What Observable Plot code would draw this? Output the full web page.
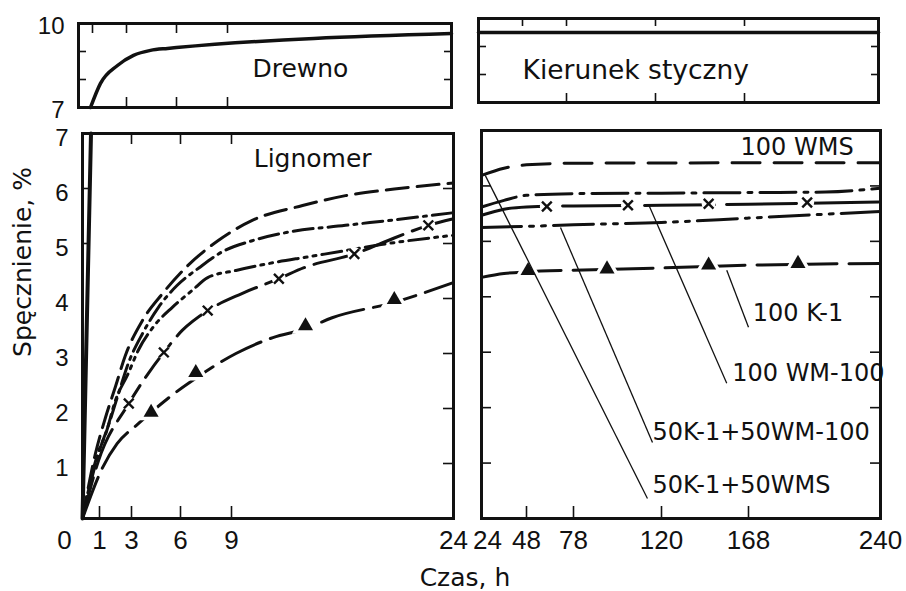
<!DOCTYPE html>
<html><head><meta charset="utf-8">
<script src="https://cdn.jsdelivr.net/npm/d3@7"></script>
<script src="https://cdn.jsdelivr.net/npm/@observablehq/plot@0.6"></script>
<style>
html,body{margin:0;padding:0;background:#fff;}
#root{position:relative;width:906px;height:591px;overflow:hidden;background:#fff;}
#root svg{position:absolute;left:0;top:0;background:transparent;overflow:visible;}
.t{position:absolute;font-family:"DejaVu Sans",sans-serif;color:#111;white-space:nowrap;line-height:1;}
</style></head><body><div id="root"></div>
<script>
// ================= DATA =================
const leftTicks = [0, 1, 3, 6, 9, 24];
const rightTicks = [24, 48, 78, 120, 168, 240];
const topYTicks = [7, 10];
const bottomYTicks = [1, 2, 3, 4, 5, 6, 7];

// Wood (Drewno)
const woodTopT = [0.86, 1.47, 2.47, 3.42, 4.44, 5.46, 6, 24];
const woodTopV = [7.0, 7.86, 8.5, 8.86, 9.04, 9.11, 9.14, 9.64];
const woodTopRT = [24, 240];
const woodTopRV = [9.5, 9.5];
const woodBotT = [0, 0.5];
const woodBotV = [0, 7];

// Lignomer, 0-24 h
const wmsLT = [0, 0.76, 1.38, 2.0, 2.6, 3.67, 4.9, 6.3, 8.2, 10.4, 13.8, 16.7, 20, 24];
const wmsLV = [0, 1.18, 1.84, 2.4, 2.95, 3.6, 4.09, 4.56, 5.05, 5.42, 5.69, 5.87, 5.99, 6.1];
const k1wmsLT = [0, 0.94, 1.6, 2.25, 2.8, 3.67, 4.65, 5.8, 7.1, 8.4, 10.4, 12.7, 16.7, 20, 24];
const k1wmsLV = [0, 1.18, 1.73, 2.33, 2.82, 3.36, 3.84, 4.24, 4.56, 4.84, 5.05, 5.2, 5.33, 5.43, 5.56];
const wm100LT = [0, 0.94, 2.83, 4.98, 6.1, 7.6, 9.7, 12.2, 13.9, 17.3, 20, 22.3, 24];
const wm100LV = [0, 1.05, 2.09, 3.02, 3.42, 3.78, 4.09, 4.36, 4.56, 4.81, 5.1, 5.33, 5.45];
const k1wmLT = [0, 0.9, 1.4, 2.0, 2.8, 3.4, 4.3, 5.5, 6.7, 7.6, 9.3, 11.8, 14, 16.7, 19.1, 24];
const k1wmLV = [0, 1.18, 1.55, 2.15, 2.64, 3.05, 3.47, 3.84, 4.15, 4.38, 4.51, 4.65, 4.75, 4.87, 4.98, 5.15];
const k1LT = [0, 1.2, 2.1, 3.4, 4.2, 5.3, 6.9, 9.3, 11.8, 14, 15.8, 20, 24];
const k1LV = [0, 0.93, 1.36, 1.72, 1.93, 2.2, 2.55, 3.0, 3.29, 3.45, 3.65, 3.93, 4.29];
const wm100LMarkT = [2.83, 4.98, 7.6, 12.2, 17.3, 22.3];
const wm100LMarkV = [2.09, 3.02, 3.78, 4.36, 4.81, 5.33];
const k1LMarkT = [4.2, 6.9, 14, 20];
const k1LMarkV = [1.93, 2.65, 3.5, 3.98];

// 24-240 h
const wmsRT = [24, 36, 48, 78, 240];
const wmsRV = [6.19, 6.32, 6.38, 6.41, 6.42];
const k1wmsRT = [24, 36, 48, 78, 120, 168, 210, 240];
const k1wmsRV = [5.62, 5.74, 5.83, 5.86, 5.87, 5.88, 5.89, 5.96];
const wm100RT = [24, 36, 48, 78, 120, 168, 240];
const wm100RV = [5.47, 5.58, 5.62, 5.64, 5.65, 5.67, 5.71];
const k1wmRT = [24, 48, 78, 120, 168, 240];
const k1wmRV = [5.25, 5.27, 5.3, 5.34, 5.42, 5.54];
const k1RT = [24, 36, 48, 78, 120, 168, 240];
const k1RV = [4.35, 4.42, 4.45, 4.48, 4.52, 4.57, 4.6];
const wm100RMarkT = [61, 104, 146, 200];
const wm100RMarkV = [5.63, 5.65, 5.68, 5.7];
const k1RMarkT = [49, 94, 146, 195];
const k1RMarkV = [4.47, 4.5, 4.57, 4.6];

// Labels
const seriesLabels = ["100 WMS", "100 K-1", "100 WM-100", "50K-1+50WM-100", "50K-1+50WMS"];
const seriesLabelT = [163.6, 170.3, 159, 115.7, 115.7];
const seriesLabelV = [6.7, 3.7, 2.62, 1.55, 0.6];
const leaderFromT = [168, 156, 115.7, 113.3];
const leaderFromV = [3.45, 2.44, 1.37, 0.36];
const leaderToT = [156, 114, 69.7, 26];
const leaderToV = [4.48, 5.65, 5.25, 6.19];
const panelTitles = ["Drewno", "Kierunek styczny", "Lignomer"];
const panelTitleT = [10.67, 48, 10.5];
const panelTitleV = [8.36, 8.14, 6.53];

// ================= LAYOUT =================
const W = 906, H = 591;
const INK = "#111";
const NUM_FONT_X = '"Liberation Sans Narrow", "Liberation Sans", sans-serif';
const NUM_FONT_Y = '"Liberation Sans", sans-serif';
const TXT_FONT = '"DejaVu Sans", sans-serif';
const pts = (t, v) => t.map((d, i) => ({t: d, v: v[i]}));
const root = document.getElementById("root");

// The hand-drawn time axes are not quite uniform: a warp maps each labelled tick
// onto its drawn spot, and the Plot linear scale does the rest.
function warpFor(ticks, tickPx) {
  const a = ticks[0], b = ticks[ticks.length - 1];
  const p0 = tickPx[0], p1 = tickPx[tickPx.length - 1];
  const warped = tickPx.map(p => a + (p - p0) / (p1 - p0) * (b - a));
  return d3.scaleLinear().domain(ticks).range(warped);
}

function panel({L, R, T, B, ticks, tickPx, yDomain, marks}) {
  const svg = Plot.plot({
    width: W, height: H,
    marginLeft: L, marginRight: W - R, marginTop: T, marginBottom: H - B,
    x: {type: "linear", domain: [ticks[0], ticks[ticks.length - 1]], range: [L, R],
        transform: warpFor(ticks, tickPx), axis: null, label: null},
    y: {domain: yDomain, range: [B, T], axis: null, label: null},
    style: {background: "transparent", fontFamily: TXT_FONT, color: INK, overflow: "visible"},
    marks: [...marks, Plot.frame({stroke: INK, strokeWidth: 3})]
  });
  root.appendChild(svg);
}

const ticksX = (vals, side, len, fh) => Plot.ruleX(vals, {x: d => d, stroke: INK, strokeWidth: 1.6,
  ...(side === "bottom" ? {insetTop: fh - len} : {insetBottom: fh - len})});
const ticksY = (vals, side, len, fw) => Plot.ruleY(vals, {y: d => d, stroke: INK, strokeWidth: 1.6,
  ...(side === "left" ? {insetRight: fw - len} : {insetLeft: fw - len})});
const yLabels = (vals, dy) => Plot.text(vals, {y: d => d, text: d => String(d), frameAnchor: "left",
  textAnchor: "end", dx: -14, dy, fontSize: 24, fontFamily: NUM_FONT_Y, fill: INK});
const xLabels = (vals, dx) => Plot.text(vals, {x: d => d, text: d => String(d), frameAnchor: "bottom",
  lineAnchor: "top", dy: 12, dx, fontSize: 26, fontFamily: NUM_FONT_X, fill: INK});
const title = (i, size = 25) => Plot.text([i], {x: () => panelTitleT[i], y: () => panelTitleV[i], text: () => panelTitles[i],
  textAnchor: "start", fontSize: size, fontFamily: TXT_FONT, fill: INK});
const ln = (t, v, dash, sw = 3) => Plot.line(pts(t, v), {x: "t", y: "v", stroke: INK, strokeWidth: sw,
  strokeDasharray: dash, curve: "monotone-x"});
const crosses = (t, v) => [
  Plot.dot(pts(t, v), {x: "t", y: "v", r: 7, fill: "#fff", stroke: null}),
  Plot.dot(pts(t, v), {x: "t", y: "v", symbol: "times", r: 4.5, stroke: INK, strokeWidth: 2.4})
];
const triangles = (t, v) => Plot.dot(pts(t, v), {x: "t", y: "v", symbol: "triangle", r: 5.6, fill: INK,
  stroke: "#fff", strokeWidth: 7, paintOrder: "stroke"});

// ---- Top-left: Drewno ----
{
  const L = 78, R = 451, T = 23, B = 107;
  panel({L, R, T, B, ticks: leftTicks, tickPx: [78, 92, 126, 176, 227, 451], yDomain: [7, 10], marks: [
    ticksX([1, 3, 6, 9], "top", 10, B - T),
    ticksX([3, 6, 9], "bottom", 10, B - T),
    ticksY([8, 9], "left", 8, R - L),
    ticksY([8, 9], "right", 7, R - L),
    ln(woodTopT, woodTopV, null, 3.5),
    title(0),
    yLabels(topYTicks, 3)
  ]});
}
// ---- Top-right: Kierunek styczny ----
{
  const L = 478, R = 878, T = 18, B = 102;
  panel({L, R, T, B, ticks: rightTicks, tickPx: [478, 522, 566, 655, 744, 878], yDomain: [7, 10], marks: [
    ticksX([48, 78, 120, 168], "top", 8, B - T),
    ticksX([78, 120, 168], "bottom", 9, B - T),
    ticksY([8, 9], "left", 8, R - L),
    ticksY([8, 9], "right", 7, R - L),
    ln(woodTopRT, woodTopRV, null, 3.5),
    title(1, 26.5)
  ]});
}
// ---- Bottom-left: Lignomer 0-24 h ----
{
  const L = 82, R = 453, T = 133, B = 518;
  panel({L, R, T, B, ticks: leftTicks, tickPx: [82, 99, 131, 180, 231, 453], yDomain: [0, 7], marks: [
    ticksX([1, 3, 6, 9], "bottom", 12, B - T),
    ticksX([3, 6, 9], "top", 11, B - T),
    ticksY([5, 6], "left", 8, R - L),
    ticksY([1, 2, 3, 4, 5, 6], "right", 10, R - L),
    ln(woodBotT, woodBotV, null, 4),
    ln(wmsLT, wmsLV, "22,9"),
    ln(k1wmsLT, k1wmsLV, "20,6,3,6"),
    ln(k1wmLT, k1wmLV, "20,6,3,6,3,6"),
    ln(wm100LT, wm100LV, "42,10"),
    ln(k1LT, k1LV, "44,10"),
    ...crosses(wm100LMarkT, wm100LMarkV),
    triangles(k1LMarkT, k1LMarkV),
    title(2),
    yLabels(bottomYTicks, 5),
    xLabels(leftTicks.filter(d => d !== 0), 0),
    xLabels([0], -18)
  ]});
}
// ---- Bottom-right: 24-240 h ----
{
  const L = 481, R = 880, T = 130, B = 518;
  panel({L, R, T, B, ticks: rightTicks, tickPx: [481, 526, 573, 661, 748, 880], yDomain: [0, 7], marks: [
    ticksX([48, 78, 120, 168], "bottom", 12, B - T),
    ticksY([1, 2, 3, 4, 5, 6], "left", 10, R - L),
    ticksY([1, 2, 3, 4, 5, 6], "right", 10, R - L),
    ln(wmsRT, wmsRV, "28,14"),
    ln(k1wmsRT, k1wmsRV, "36,8,4,8"),
    ln(k1wmRT, k1wmRV, "40,8,4,8,4,8"),
    ln(wm100RT, wm100RV, "70,12"),
    ln(k1RT, k1RV, "80,12"),
    ...crosses(wm100RMarkT, wm100RMarkV),
    triangles(k1RMarkT, k1RMarkV),
    Plot.link(leaderFromT.map((d, i) => i), {x1: i => leaderFromT[i], y1: i => leaderFromV[i],
      x2: i => leaderToT[i], y2: i => leaderToV[i], stroke: INK, strokeWidth: 1.3}),
    Plot.text(seriesLabels, {x: (d, i) => seriesLabelT[i], y: (d, i) => seriesLabelV[i], text: d => d,
      textAnchor: "start", fontSize: 24, fontFamily: TXT_FONT, fill: INK}),
    xLabels(rightTicks.filter(d => d !== 24), 0),
    xLabels([24], 6)
  ]});
}

// ---- Axis titles ----
const yt = document.createElement("div");
yt.className = "t";
yt.textContent = "Spęcznienie, %";
yt.style.fontSize = "25px";
yt.style.left = "22px"; yt.style.top = "262px";
yt.style.transform = "translate(-50%,-50%) rotate(-90deg)";
root.appendChild(yt);
const xt = document.createElement("div");
xt.className = "t";
xt.textContent = "Czas, h";
xt.style.fontSize = "25px";
xt.style.left = "465px"; xt.style.top = "577px";
xt.style.transform = "translate(-50%,-50%)";
root.appendChild(xt);
</script></body></html>
